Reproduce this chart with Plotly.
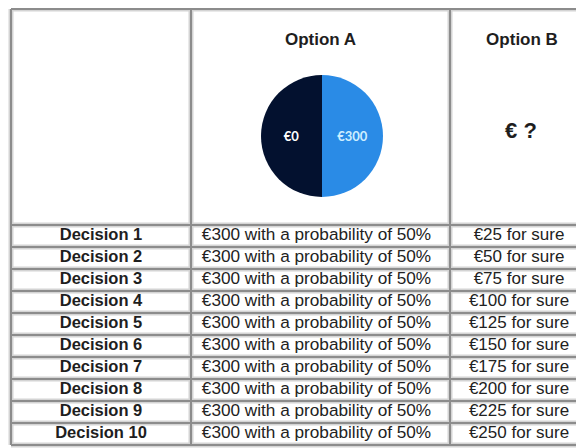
import plotly.graph_objects as go

# ---- data ----
decisions = [f"Decision {i}" for i in range(1, 11)]
option_a_text = ["€300 with a probability of 50%"] * 10
sure_amounts = [25, 50, 75, 100, 125, 150, 175, 200, 225, 250]
option_b_text = [f"€{v} for sure" for v in sure_amounts]
headers = ["", "Option A", "Option B"]
lottery_labels = ["€300", "€0"]
lottery_probs = [50, 50]
option_b_header_value = "€ ?"

# ---- layout constants (page-pixel coordinates; page body has 8px margin) ----
OFF = 8
W, H = 584 - OFF, 448 - OFF
col_edges = [11, 191, 450, 590]
header_top, header_bottom, row_h = 9, 225, 22
row_edges = [header_top, header_bottom] + [header_bottom + row_h * (k + 1) for k in range(len(decisions))]
col_centers = [(col_edges[i] + col_edges[i + 1]) / 2 for i in range(3)]
row_centers = [(row_edges[i + 1] + row_edges[i + 2]) / 2 for i in range(len(decisions))]

fig = go.Figure()

# body text
fig.add_trace(go.Scatter(
    x=[col_centers[0]] * len(decisions), y=row_centers, text=decisions, mode="text",
    textfont=dict(family="Liberation Sans", size=16.5, color="#1e1e1e", weight="bold"),
    hoverinfo="skip", showlegend=False))
fig.add_trace(go.Scatter(
    x=[col_centers[1] - 4] * len(option_a_text), y=row_centers, text=option_a_text, mode="text",
    textfont=dict(family="Liberation Sans", size=17.2, color="#222222"),
    hoverinfo="skip", showlegend=False))
fig.add_trace(go.Scatter(
    x=[col_centers[2] - 1] * len(option_b_text), y=row_centers, text=option_b_text, mode="text",
    textfont=dict(family="Liberation Sans", size=17, color="#222222"),
    hoverinfo="skip", showlegend=False))

# header text
fig.add_trace(go.Scatter(
    x=[col_centers[1], col_centers[2] + 2], y=[41, 41], text=headers[1:], mode="text",
    textfont=dict(family="Liberation Sans", size=17, color="#1e1e1e", weight="bold"),
    hoverinfo="skip", showlegend=False))
fig.add_trace(go.Scatter(
    x=[col_centers[2] + 1], y=[132], text=[option_b_header_value], mode="text",
    textfont=dict(family="Liberation Sans", size=22, color="#1e1e1e", weight="bold"),
    hoverinfo="skip", showlegend=False))

# pie in Option A header
cx, cy, r = 322, 136, 61
fig.add_trace(go.Pie(
    values=lottery_probs, labels=lottery_labels, sort=False, direction="clockwise", rotation=0,
    marker=dict(colors=["#2a8be6", "#03112f"], line=dict(width=0)),
    textinfo="label", textposition="inside", insidetextorientation="horizontal",
    textfont=dict(family="Lato", size=13, color=["#cdeeff", "#ffffff"], weight="bold"),
    domain=dict(x=[(cx - r - OFF) / W, (cx + r - OFF) / W],
                y=[1 - (cy + r - OFF) / H, 1 - (cy - r - OFF) / H]),
    showlegend=False, hoverinfo="skip"))

# grid borders
shapes = []
for lw, col in [(5, "#d4d4d4"), (2, "#8c8c8c")]:
    for x in col_edges:
        shapes.append(dict(type="line", xref="x", yref="y", x0=x, x1=x, y0=row_edges[0], y1=row_edges[-1],
                           line=dict(color=col, width=lw), layer="below"))
    for y in row_edges:
        shapes.append(dict(type="line", xref="x", yref="y", x0=col_edges[0], x1=col_edges[-1], y0=y, y1=y,
                           line=dict(color=col, width=lw), layer="below"))

fig.update_layout(
    width=W, height=H, margin=dict(l=0, r=0, t=0, b=0),
    paper_bgcolor="white", plot_bgcolor="white", shapes=shapes,
    xaxis=dict(range=[OFF, OFF + W], visible=False, fixedrange=True),
    yaxis=dict(range=[OFF + H, OFF], visible=False, fixedrange=True),
)

fig.write_html("out.html")
